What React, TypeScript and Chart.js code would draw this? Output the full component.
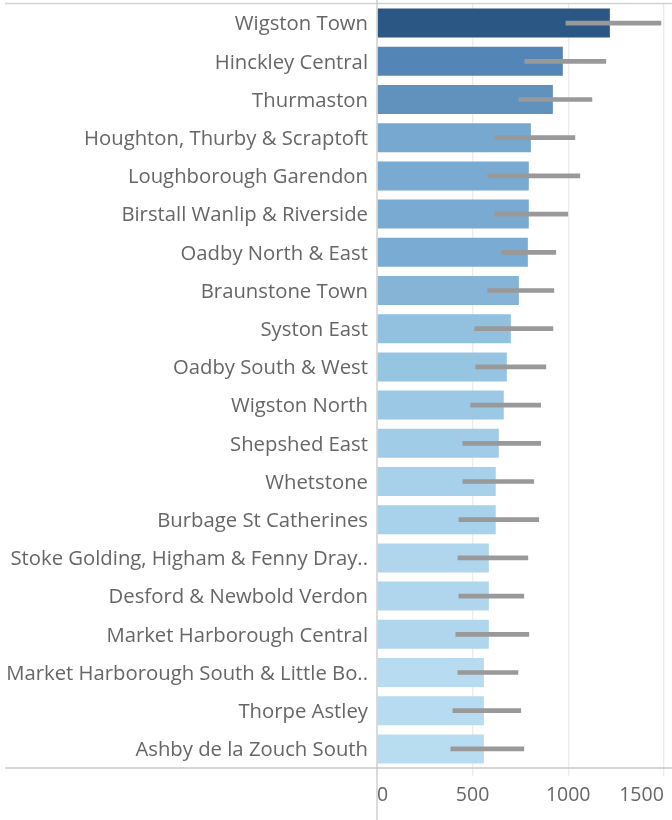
import { useEffect, useRef } from 'react';
import { Chart, registerables } from 'chart.js';

Chart.register(...registerables);

const categories = [
  'Wigston Town',
  'Hinckley Central',
  'Thurmaston',
  'Houghton, Thurby & Scraptoft',
  'Loughborough Garendon',
  'Birstall Wanlip & Riverside',
  'Oadby North & East',
  'Braunstone Town',
  'Syston East',
  'Oadby South & West',
  'Wigston North',
  'Shepshed East',
  'Whetstone',
  'Burbage St Catherines',
  'Stoke Golding, Higham & Fenny Dray..',
  'Desford & Newbold Verdon',
  'Market Harborough Central',
  'Market Harborough South & Little Bo..',
  'Thorpe Astley',
  'Ashby de la Zouch South',
];

const values = [1218, 972, 920, 805, 794, 794, 789, 742, 700, 679, 663, 637, 621, 621, 585, 585, 585, 559, 559, 559];
const errLow = [988, 773, 742, 616, 579, 616, 652, 579, 511, 516, 490, 449, 449, 428, 423, 428, 412, 423, 397, 386];
const errHigh = [1485, 1197, 1124, 1035, 1061, 998, 935, 925, 920, 883, 856, 856, 820, 846, 789, 768, 794, 737, 752, 768];
const xTicks = [0, 500, 1000, 1500];

const barColors = [
  '#2a5783', '#5385b6', '#6192bd', '#77a9d0', '#79aad1', '#79aad1', '#7aabd2',
  '#86b4d7', '#92c1df', '#96c5e2', '#9bc8e5', '#a1cce8', '#a7d0ea', '#a8d1eb',
  '#b0d6ee', '#b0d6ee', '#b0d6ee', '#b7dbf0', '#b7dbf0', '#b8dcf0',
];

const FONT = '"Open Sans", "Noto Sans", sans-serif';

const framePlugin = {
  id: 'frame',
  afterDraw(chart: any) {
    const { ctx, chartArea, width, height } = chart;
    ctx.save();
    ctx.strokeStyle = '#d2d2d2';
    ctx.lineWidth = 1.3;
    ctx.beginPath();
    ctx.moveTo(5, 3.5);
    ctx.lineTo(width, 3.5);
    ctx.stroke();
    ctx.strokeStyle = '#c8c8c8';
    ctx.beginPath();
    ctx.moveTo(5, chartArea.bottom);
    ctx.lineTo(width, chartArea.bottom);
    ctx.stroke();
    const x0 = chart.scales.x.getPixelForValue(0);
    ctx.beginPath();
    ctx.moveTo(x0, 0);
    ctx.lineTo(x0, height);
    ctx.stroke();
    ctx.restore();
  },
};

export default function App() {
  const ref = useRef<HTMLCanvasElement | null>(null);

  useEffect(() => {
    document.body.style.margin = '0';
    if (!ref.current) return;
    const chart = new Chart(ref.current, {
      type: 'bar',
      data: {
        labels: categories,
        datasets: [
          {
            label: 'Range',
            data: categories.map((_, i) => [errLow[i], errHigh[i]]),
            backgroundColor: '#999999',
            barThickness: 4,
            grouped: false,
            order: 1,
          } as any,
          {
            label: 'Value',
            data: values,
            backgroundColor: barColors,
            barPercentage: 0.76,
            categoryPercentage: 1,
            grouped: false,
            order: 2,
          },
        ],
      },
      options: {
        indexAxis: 'y',
        animation: false,
        responsive: false,
        events: [],
        layout: { padding: { top: 4, left: 0, right: 0, bottom: 0 } },
        plugins: {
          legend: { display: false },
          tooltip: { enabled: false },
        },
        scales: {
          x: {
            type: 'linear',
            min: 0,
            max: 1543,
            afterFit: (s: any) => {
              s.height = 52;
              s.paddingLeft = 0;
              s.paddingRight = 0;
            },
            afterBuildTicks: (s: any) => {
              s.ticks = xTicks.map((v) => ({ value: v }));
            },
            ticks: {
              includeBounds: false,
              align: 'inner',
              color: '#666666',
              padding: 8,
              font: { family: FONT, size: 19.5 },
              callback: (v: any) => String(v),
            },
            grid: {
              color: (c: any) => (c.tick && c.tick.value === 0 ? 'rgba(0,0,0,0)' : '#ebebeb'),
              lineWidth: 1.3,
              tickLength: 8,
            },
            border: { display: false },
          },
          y: {
            afterFit: (s: any) => {
              s.width = 377;
              s.paddingTop = 0;
              s.paddingBottom = 0;
            },
            ticks: {
              color: '#666666',
              padding: 9,
              labelOffset: 1.5,
              autoSkip: false,
              font: { family: FONT, size: 20.3 },
            },
            grid: { display: false, drawTicks: false, tickLength: 0 },
            border: { display: false },
          },
        },
      },
      plugins: [framePlugin],
    });
    return () => chart.destroy();
  }, []);

  return <canvas ref={ref} width={672} height={820} style={{ display: 'block' }} />;
}
